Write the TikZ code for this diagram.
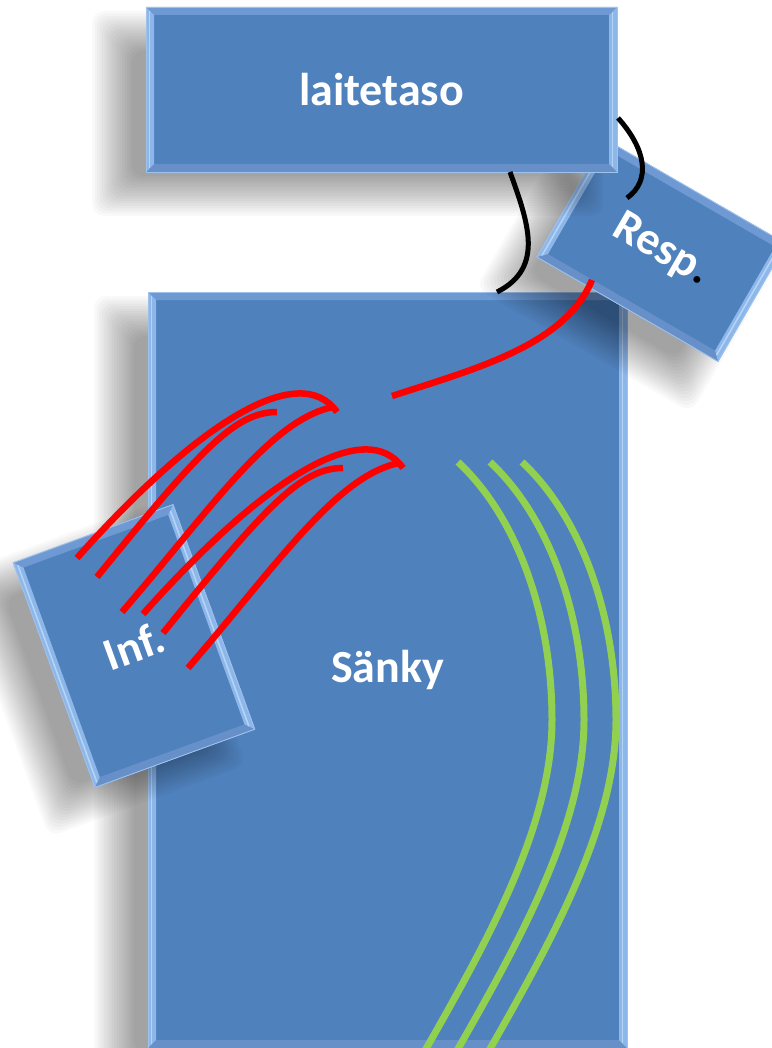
\documentclass[tikz,border=0pt]{standalone}
\usepackage{fontspec}
\setmainfont{Carlito}

\definecolor{boxblue}{HTML}{4F81BD}
\definecolor{bevelside}{HTML}{8DB6E9}
\definecolor{bevelshine}{HTML}{B3D3F7}
\definecolor{beveltop}{HTML}{6E99D2}
\definecolor{bevelbottom}{HTML}{6790C9}
\definecolor{edgeline}{HTML}{9EC2EE}
\definecolor{cablered}{HTML}{FF0000}
\definecolor{cablegreen}{HTML}{92D050}

\tikzset{
  panel/.style={fill=boxblue, draw=edgeline, line width=0.8pt, inner sep=0pt,
    text=white, font=\fontsize{46}{52}\selectfont\bfseries},
  shadowlayer/.style={fill=black, opacity=0.022, rounded corners=12pt},
  redcable/.style={draw=cablered, line width=6.5pt},
  greencable/.style={draw=cablegreen, line width=7pt},
  blackcable/.style={draw=black, line width=5pt},
}

% soft drop shadow, offset down and to the left: centre x, centre y, half width, half height, rotation
\newcommand\panelshadow[5]{%
  \begin{scope}[shift={({#1-34},{#2+24})}, rotate=#5]
    \foreach \k in {0,...,16}{
      \pgfmathsetmacro\ex{20-\k*40/16}
      \fill[shadowlayer] ({-#3-\ex},{-#4-\ex}) rectangle ({#3+\ex},{#4+\ex});
    }
  \end{scope}}

% bevelled rim of a panel: node name, half width, half height, rotation
\newcommand\panelbevel[4]{%
  \begin{scope}[shift={(#1.center)}, rotate=#4]
    \fill[beveltop] (-#2,-#3) -- (#2,-#3) -- ({#2-8},{-#3+8}) -- ({-#2+8},{-#3+8}) -- cycle;
    \fill[bevelbottom] (-#2,#3) -- (#2,#3) -- ({#2-8},{#3-8}) -- ({-#2+8},{#3-8}) -- cycle;
    \fill[bevelside] (-#2,-#3) -- ({-#2+8},{-#3+8}) -- ({-#2+8},{#3-8}) -- (-#2,#3) -- cycle;
    \fill[bevelside] (#2,-#3) -- ({#2-8},{-#3+8}) -- ({#2-8},{#3-8}) -- (#2,#3) -- cycle;
    \draw[bevelshine, line width=1.6pt] ({-#2+3.5},{-#3+4}) -- ({-#2+3.5},{#3-4});
    \draw[bevelshine, line width=1.6pt] ({#2-4.5},{-#3+5}) -- ({#2-4.5},{#3-5});
    \draw[edgeline, line width=0.8pt] (-#2,-#3) rectangle (#2,#3);
  \end{scope}}

\begin{document}
\begin{tikzpicture}[x=1pt, y=-1pt]
  \fill[white] (0,0) rectangle (771,1048);
  \useasboundingbox (0,0) rectangle (771,1048);

  % bed
  \panelshadow{387.5}{670}{239.5}{378}{0}
  \node[panel, minimum width=479pt, minimum height=756pt] (sanky) at (387.5,670) {Sänky};
  \panelbevel{sanky}{239.5}{378}{0}

  % respirator, tilted behind the equipment shelf
  \panelshadow{661.5}{250.4}{104.5}{68}{-30}
  \node[panel, minimum width=209pt, minimum height=136pt, rotate=-30] (resp) at (661.5,250.4)
    {Resp\textcolor{black}{.}};
  \panelbevel{resp}{104.5}{68}{-30}

  % equipment shelf
  \panelshadow{381.5}{89.5}{235.5}{82.5}{0}
  \node[panel, minimum width=471pt, minimum height=165pt] (laite) at (381.5,89.5) {laitetaso};
  \panelbevel{laite}{235.5}{82.5}{0}

  % infusion stand
  \panelshadow{134}{646}{85}{119.5}{20}
  \node[panel, minimum width=170pt, minimum height=239pt, rotate=20] (inf) at (134,646) {Inf.};
  \panelbevel{inf}{85}{119.5}{20}

  % cable ends
  \coordinate (k1a) at (510,172);
  \coordinate (k1b) at (497,292);
  \coordinate (k2a) at (618,118);
  \coordinate (k2b) at (627,198);
  \coordinate (r0a) at (592,280);
  \coordinate (r0b) at (392,396);

  % black cables from the shelf
  \draw[blackcable] (k1a) .. controls (528,222) and (545,268) .. (k1b);
  \draw[blackcable] (k2a) .. controls (645,148) and (652,180) .. (k2b);

  % red tube from the respirator
  \draw[redcable] (r0a) .. controls (565,345) and (478,368) .. (r0b);

  % two bundles of infusion lines
  \foreach \dx/\dy/\g in {0/0/a, 66/56/b}{
    \begin{scope}[shift={(\dx,\dy)}]
      \coordinate (\g1s) at (77,558);  \coordinate (\g1e) at (337,412);
      \coordinate (\g2s) at (97,577);  \coordinate (\g2e) at (277,412);
      \coordinate (\g3s) at (122,612); \coordinate (\g3e) at (333,407);
      \draw[redcable] (\g1s) .. controls (200,420) and (300,360) .. (\g1e);
      \draw[redcable] (\g2s) .. controls (200,450) and (235,412) .. (\g2e);
      \draw[redcable] (\g3s) .. controls (210,510) and (270,420) .. (\g3e);
    \end{scope}
  }

  % green lines along the bed
  \foreach \dx/\g in {0/1, 32/2, 64/3}{
    \begin{scope}[shift={(\dx,0)}]
      \coordinate (gs\g) at (458,462);
      \coordinate (gm\g) at (552,720);
      \coordinate (ge\g) at (422,1056);
      \draw[greencable] (gs\g) .. controls (520,520) and (552,620) .. (gm\g)
        .. controls (552,830) and (482,950) .. (ge\g);
    \end{scope}
  }
\end{tikzpicture}
\end{document}
